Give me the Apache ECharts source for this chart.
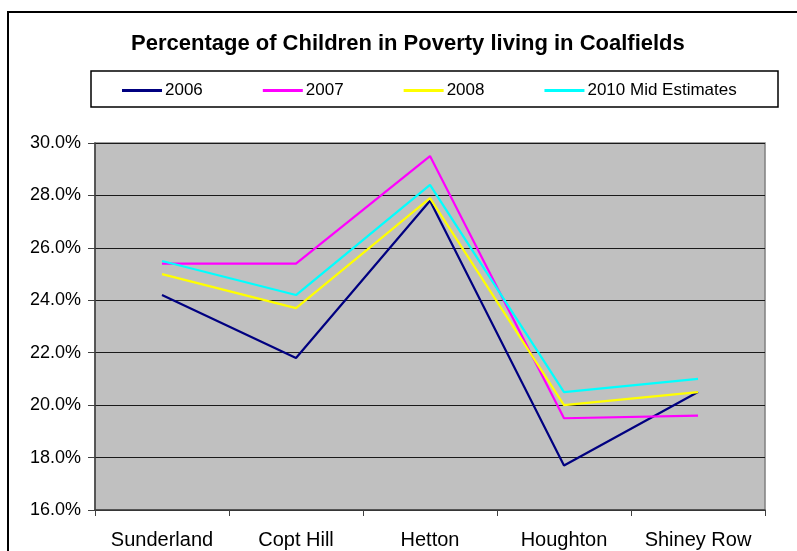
<!DOCTYPE html>
<html>
<head>
<meta charset="utf-8">
<script src="https://cdn.jsdelivr.net/npm/echarts@6/dist/echarts.min.js"></script>
<style>
  html, body { margin: 0; padding: 0; background: #ffffff; }
  #chart { width: 797px; height: 551px; }
</style>
</head>
<body>
<div id="chart"></div>
<script>
// Coalfields areas along the x axis
const areas = ['Sunderland', 'Copt Hill', 'Hetton', 'Houghton', 'Shiney Row'];

// Percentage of children in poverty, per year
const y2006 = [24.2, 21.8, 27.8, 17.7, 20.5];
const y2007 = [25.4, 25.4, 29.5, 19.5, 19.6];
const y2008 = [25.0, 23.7, 27.9, 20.0, 20.5];
const y2010Mid = [25.5, 24.2, 28.4, 20.5, 21.0];

const seriesNames = ['2006', '2007', '2008', '2010 Mid Estimates'];
const seriesColors = ['#000080', '#FF00FF', '#FFFF00', '#00FFFF'];
const seriesData = [y2006, y2007, y2008, y2010Mid];

const FONT = 'Liberation Sans, Arial, sans-serif';

const chart = echarts.init(document.getElementById('chart'), null, { renderer: 'canvas' });

chart.setOption({
  animation: false,
  backgroundColor: '#ffffff',
  title: {
    text: 'Percentage of Children in Poverty living in Coalfields',
    left: 126,
    top: 28,
    textStyle: { fontFamily: FONT, fontSize: 22, fontWeight: 'bold', color: '#000000' }
  },
  legend: {
    data: seriesNames,
    left: 117,
    top: 77,
    icon: 'rect',
    itemWidth: 40,
    itemHeight: 3,
    itemGap: 60,
    textStyle: { fontFamily: FONT, fontSize: 17, color: '#000000', padding: [0, 0, 0, -2] }
  },
  graphic: [
    // outer chart frame
    { type: 'rect', shape: { x: 8, y: 12, width: 900, height: 700 },
      style: { fill: null, stroke: '#000000', lineWidth: 2 }, silent: true },
    // legend frame
    { type: 'rect', shape: { x: 91, y: 71, width: 687, height: 36 },
      style: { fill: null, stroke: '#000000', lineWidth: 1.5 }, silent: true, z: 10 }
  ],
  grid: {
    left: 95, top: 143, right: 32, bottom: 41,
    show: true,
    backgroundColor: '#C0C0C0',
    borderColor: '#808080',
    borderWidth: 1.5
  },
  xAxis: {
    type: 'category',
    data: areas,
    boundaryGap: true,
    axisLine: { lineStyle: { color: '#404040', width: 1.5 } },
    axisTick: { show: true, interval: 0, length: 6, lineStyle: { color: '#404040' } },
    axisLabel: { interval: 0, hideOverlap: false, fontFamily: FONT, fontSize: 20, color: '#000000', margin: 20 },
    splitLine: { show: false }
  },
  yAxis: {
    type: 'value',
    min: 16,
    max: 30,
    interval: 2,
    axisLine: { show: true, lineStyle: { color: '#404040', width: 1.5 } },
    axisTick: { show: true, length: 7, lineStyle: { color: '#404040' } },
    axisLabel: {
      fontFamily: FONT, fontSize: 18, color: '#000000', margin: 14,
      formatter: v => v.toFixed(1) + '%'
    },
    splitLine: { show: true, lineStyle: { color: '#1a1a1a', width: 1 } }
  },
  series: seriesNames.map((name, i) => ({
    name,
    type: 'line',
    data: seriesData[i],
    showSymbol: false,
    symbol: 'none',
    color: seriesColors[i],
    lineStyle: { color: seriesColors[i], width: 2.2 },
    z: 3
  }))
});
</script>
</body>
</html>
